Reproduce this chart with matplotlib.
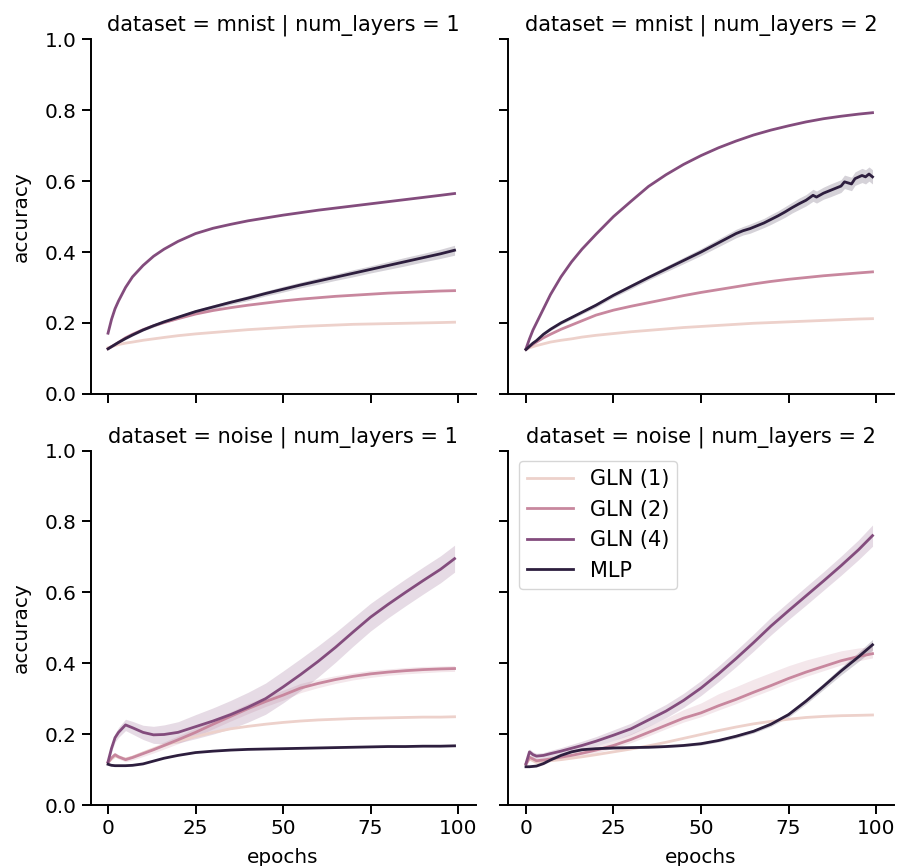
import matplotlib
matplotlib.use("Agg")
import matplotlib.pyplot as plt
import seaborn as sns
import numpy as np

epochs = [0, 1, 2, 3, 5, 7, 10, 13, 16, 20, 25, 30, 35, 40, 45, 50, 55, 60, 65, 70, 75, 80, 85, 90, 95, 99]
# the jittery MLP curve (mnist, 2 layers) gets a finer tail
epochs_mlp_mnist2 = [0, 1, 2, 3, 5, 7, 10, 13, 16, 20, 25, 30, 35, 40, 45, 50, 55,
                     60, 62, 64, 66, 68, 70, 72, 74, 76, 78, 80, 82, 83, 85, 87, 89, 90, 91, 93, 94, 96, 97, 98, 99]

models = ["GLN (1)", "GLN (2)", "GLN (4)", "MLP"]
datasets = ["mnist", "noise"]
num_layers = [1, 2]

# ---- mnist, 1 layer
mnist1_gln1 = [0.13, 0.133, 0.136, 0.139, 0.143, 0.146, 0.151, 0.155, 0.159, 0.164, 0.169, 0.173, 0.177,
               0.181, 0.184, 0.187, 0.19, 0.192, 0.194, 0.196, 0.197, 0.198, 0.199, 0.2, 0.201, 0.202]
mnist1_gln2 = [0.127, 0.133, 0.139, 0.145, 0.158, 0.168, 0.181, 0.192, 0.201, 0.212, 0.225, 0.235, 0.243,
               0.25, 0.256, 0.262, 0.267, 0.271, 0.275, 0.278, 0.281, 0.284, 0.286, 0.288, 0.29, 0.291]
mnist1_gln4 = [0.171, 0.21, 0.24, 0.262, 0.3, 0.33, 0.362, 0.388, 0.408, 0.43, 0.452, 0.467, 0.478,
               0.488, 0.496, 0.504, 0.511, 0.518, 0.524, 0.53, 0.536, 0.542, 0.548, 0.554, 0.56, 0.565]
mnist1_mlp = [0.127, 0.133, 0.139, 0.145, 0.156, 0.166, 0.18, 0.192, 0.203, 0.216, 0.232, 0.245, 0.258,
              0.27, 0.283, 0.295, 0.307, 0.318, 0.329, 0.34, 0.351, 0.362, 0.373, 0.384, 0.395, 0.405]
mnist1_mlp_ci = [0.002, 0.002, 0.002, 0.002, 0.003, 0.003, 0.003, 0.004, 0.004, 0.005, 0.005, 0.006, 0.006,
                 0.007, 0.007, 0.008, 0.008, 0.009, 0.009, 0.01, 0.01, 0.011, 0.012, 0.012, 0.013, 0.014]

# ---- mnist, 2 layers
mnist2_gln1 = [0.125, 0.13, 0.133, 0.136, 0.141, 0.146, 0.151, 0.155, 0.16, 0.165, 0.17, 0.175, 0.179,
               0.183, 0.187, 0.19, 0.193, 0.196, 0.199, 0.201, 0.203, 0.205, 0.207, 0.209, 0.211, 0.212]
mnist2_gln2 = [0.125, 0.133, 0.14, 0.146, 0.158, 0.168, 0.182, 0.194, 0.206, 0.222, 0.236, 0.247, 0.257,
               0.267, 0.277, 0.286, 0.294, 0.302, 0.31, 0.317, 0.323, 0.328, 0.333, 0.337, 0.341, 0.344]
mnist2_gln4 = [0.127, 0.155, 0.18, 0.2, 0.24, 0.28, 0.33, 0.372, 0.408, 0.45, 0.5, 0.543, 0.585,
               0.618, 0.647, 0.672, 0.694, 0.713, 0.73, 0.744, 0.756, 0.767, 0.776, 0.783, 0.789, 0.793]
mnist2_mlp = [0.125, 0.134, 0.143, 0.15, 0.168, 0.182, 0.2, 0.215, 0.23, 0.25, 0.278, 0.303, 0.328,
              0.352, 0.376, 0.4, 0.426,
              0.452, 0.46, 0.466, 0.474, 0.482, 0.492, 0.502, 0.513, 0.525, 0.536, 0.546, 0.56, 0.555,
              0.566, 0.574, 0.582, 0.586, 0.598, 0.592, 0.607, 0.616, 0.612, 0.62, 0.612]
mnist2_mlp_ci = [0.002, 0.002, 0.003, 0.003, 0.003, 0.004, 0.004, 0.005, 0.005, 0.006, 0.006, 0.007, 0.007,
                 0.008, 0.009, 0.01, 0.011,
                 0.012, 0.012, 0.013, 0.013, 0.013, 0.014, 0.014, 0.015, 0.015, 0.016, 0.016, 0.017, 0.017,
                 0.017, 0.018, 0.018, 0.018, 0.019, 0.019, 0.019, 0.02, 0.02, 0.02, 0.02]

# ---- noise, 1 layer
noise1_gln1 = [0.12, 0.13, 0.138, 0.135, 0.13, 0.135, 0.147, 0.158, 0.168, 0.18, 0.193, 0.205, 0.215,
               0.222, 0.228, 0.233, 0.237, 0.24, 0.242, 0.244, 0.245, 0.246, 0.247, 0.248, 0.248, 0.249]
noise1_gln2 = [0.12, 0.133, 0.142, 0.136, 0.128, 0.134, 0.145, 0.156, 0.168, 0.184, 0.205, 0.228, 0.25,
               0.272, 0.292, 0.31, 0.33, 0.343, 0.354, 0.363, 0.37, 0.375, 0.379, 0.382, 0.384, 0.385]
noise1_gln2_ci = [0.003, 0.005, 0.006, 0.006, 0.006, 0.007, 0.008, 0.009, 0.01, 0.011, 0.012, 0.013, 0.013,
                  0.014, 0.014, 0.014, 0.013, 0.012, 0.011, 0.01, 0.01, 0.009, 0.009, 0.009, 0.008, 0.008]
noise1_gln4 = [0.122, 0.16, 0.19, 0.205, 0.226, 0.218, 0.205, 0.198, 0.199, 0.205, 0.221, 0.237, 0.255,
               0.276, 0.3, 0.333, 0.368, 0.405, 0.445, 0.488, 0.53, 0.566, 0.6, 0.633, 0.665, 0.695]
noise1_gln4_ci = [0.004, 0.01, 0.012, 0.014, 0.016, 0.018, 0.02, 0.024, 0.027, 0.03, 0.034, 0.037, 0.04,
                  0.042, 0.044, 0.045, 0.045, 0.044, 0.042, 0.04, 0.039, 0.038, 0.038, 0.038, 0.038, 0.038]
noise1_mlp = [0.115, 0.112, 0.111, 0.111, 0.111, 0.112, 0.116, 0.124, 0.132, 0.14, 0.148, 0.152, 0.155,
              0.157, 0.158, 0.159, 0.16, 0.161, 0.162, 0.163, 0.164, 0.165, 0.165, 0.166, 0.166, 0.167]

# ---- noise, 2 layers
noise2_gln1 = [0.115, 0.13, 0.125, 0.12, 0.122, 0.125, 0.128, 0.132, 0.136, 0.142, 0.15, 0.158, 0.167,
               0.177, 0.188, 0.199, 0.21, 0.22, 0.229, 0.236, 0.242, 0.247, 0.25, 0.252, 0.253, 0.254]
noise2_gln2 = [0.115, 0.135, 0.13, 0.125, 0.127, 0.13, 0.135, 0.14, 0.146, 0.155, 0.168, 0.185, 0.205,
               0.225, 0.245, 0.26, 0.28, 0.298, 0.318, 0.337, 0.357, 0.375, 0.391, 0.407, 0.419, 0.427]
noise2_gln2_lo = [0.003, 0.005, 0.005, 0.005, 0.005, 0.006, 0.006, 0.007, 0.007, 0.008, 0.008, 0.009, 0.01,
                  0.01, 0.011, 0.011, 0.012, 0.012, 0.012, 0.012, 0.012, 0.012, 0.012, 0.012, 0.012, 0.012]
noise2_gln2_hi = [0.003, 0.005, 0.005, 0.005, 0.006, 0.007, 0.008, 0.009, 0.01, 0.012, 0.014, 0.016, 0.018,
                  0.02, 0.024, 0.028, 0.034, 0.036, 0.037, 0.037, 0.036, 0.034, 0.031, 0.028, 0.024, 0.02]
noise2_gln4 = [0.117, 0.15, 0.142, 0.138, 0.14, 0.145, 0.152, 0.16, 0.168, 0.18, 0.197, 0.215, 0.24,
               0.265, 0.295, 0.33, 0.37, 0.413, 0.458, 0.505, 0.548, 0.59, 0.632, 0.675, 0.72, 0.76]
noise2_gln4_ci = [0.004, 0.008, 0.008, 0.008, 0.008, 0.009, 0.01, 0.011, 0.012, 0.013, 0.015, 0.016, 0.018,
                  0.019, 0.02, 0.021, 0.022, 0.023, 0.024, 0.025, 0.025, 0.026, 0.026, 0.027, 0.028, 0.03]
noise2_mlp = [0.108, 0.108, 0.109, 0.11, 0.117, 0.127, 0.14, 0.15, 0.156, 0.159, 0.161, 0.162, 0.163,
              0.165, 0.168, 0.173, 0.182, 0.194, 0.208, 0.228, 0.255, 0.293, 0.335, 0.378, 0.418, 0.452]
noise2_mlp_ci = [0.002, 0.002, 0.002, 0.002, 0.003, 0.003, 0.003, 0.003, 0.003, 0.003, 0.003, 0.003, 0.003,
                 0.003, 0.003, 0.004, 0.004, 0.005, 0.005, 0.006, 0.007, 0.008, 0.009, 0.011, 0.013, 0.015]

panels = {
    ("mnist", 1): [(epochs, mnist1_gln1, None, None), (epochs, mnist1_gln2, None, None),
                   (epochs, mnist1_gln4, None, None), (epochs, mnist1_mlp, mnist1_mlp_ci, mnist1_mlp_ci)],
    ("mnist", 2): [(epochs, mnist2_gln1, None, None), (epochs, mnist2_gln2, None, None),
                   (epochs, mnist2_gln4, None, None),
                   (epochs_mlp_mnist2, mnist2_mlp, mnist2_mlp_ci, mnist2_mlp_ci)],
    ("noise", 1): [(epochs, noise1_gln1, None, None), (epochs, noise1_gln2, noise1_gln2_ci, noise1_gln2_ci),
                   (epochs, noise1_gln4, noise1_gln4_ci, noise1_gln4_ci), (epochs, noise1_mlp, None, None)],
    ("noise", 2): [(epochs, noise2_gln1, None, None), (epochs, noise2_gln2, noise2_gln2_lo, noise2_gln2_hi),
                   (epochs, noise2_gln4, noise2_gln4_ci, noise2_gln4_ci), (epochs, noise2_mlp, noise2_mlp_ci, noise2_mlp_ci)],
}

colors = sns.cubehelix_palette(4)

plt.rcParams['font.family'] = ['DejaVu Sans']
plt.rcParams['axes.linewidth'] = 1.4
plt.rcParams['xtick.major.width'] = 1.4
plt.rcParams['ytick.major.width'] = 1.4
plt.rcParams['xtick.major.size'] = 6.7
plt.rcParams['ytick.major.size'] = 6.7

fig, axes = plt.subplots(2, 2, sharex=True, sharey=True, figsize=(8.99, 8.66), dpi=100)
fig.subplots_adjust(left=0.1007, right=0.9939, bottom=0.0704, top=0.9546, wspace=0.0855, hspace=0.16)

for r, ds in enumerate(datasets):
    for c, nl in enumerate(num_layers):
        ax = axes[r, c]
        for k, (x, y, lo, hi) in enumerate(panels[(ds, nl)]):
            x = np.array(x)
            y = np.array(y)
            ax.plot(x, y, color=colors[k], lw=2.0, label=models[k])
            if lo is not None:
                ax.fill_between(x, y - np.array(lo), y + np.array(hi), color=colors[k], alpha=0.2, lw=0)
        ax.set_title(f"dataset = {ds} | num_layers = {nl}", fontsize=15, pad=6)
        ax.spines['top'].set_visible(False)
        ax.spines['right'].set_visible(False)
        ax.tick_params(labelsize=14.4)
        if c == 0:
            ax.set_ylabel("accuracy", fontsize=14.4, labelpad=10)
        if r == 1:
            ax.set_xlabel("epochs", fontsize=14.4, labelpad=7)

axes[0, 0].set_ylim(0, 1.0)
axes[0, 0].set_yticks([0.0, 0.2, 0.4, 0.6, 0.8, 1.0])
axes[0, 0].set_xticks([0, 25, 50, 75, 100])
axes[0, 0].set_xlim(-5, 105)

axes[1, 1].legend(loc='upper left', fontsize=15, handlelength=2.2)

fig.savefig("out.png", dpi=100)
